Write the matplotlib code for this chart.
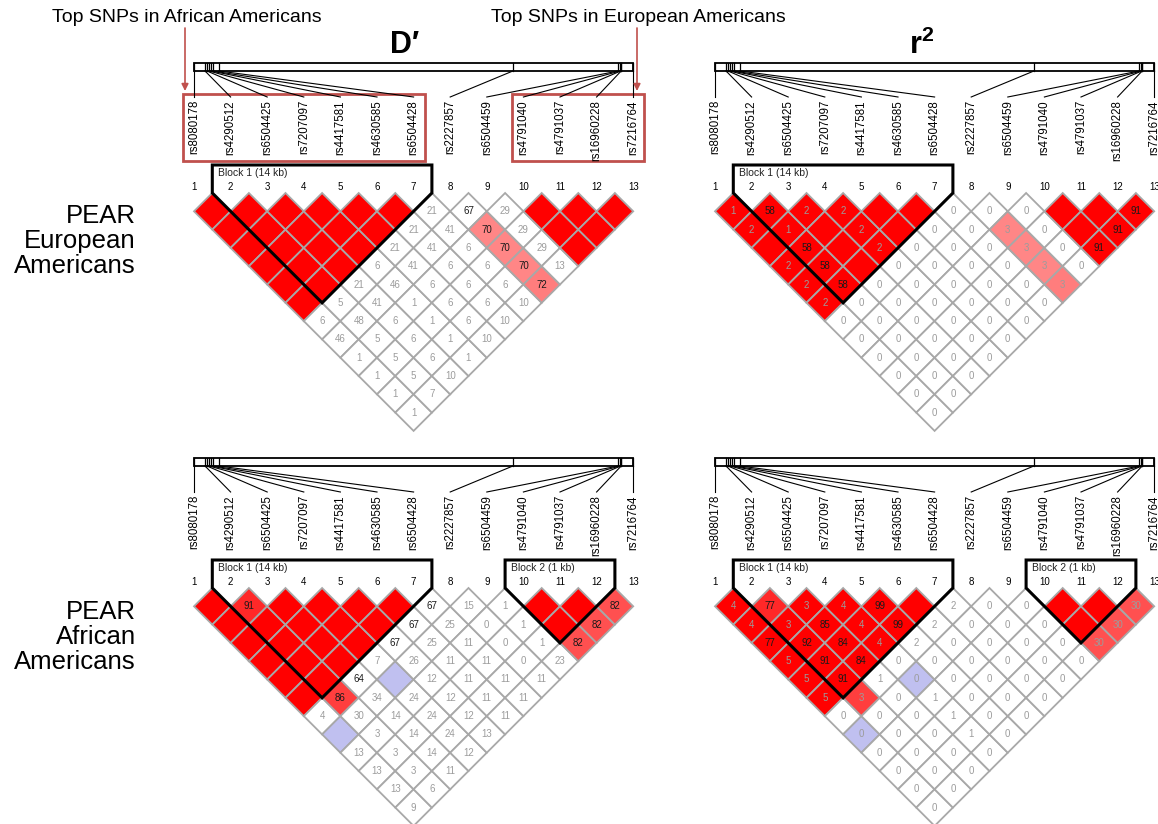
import matplotlib.pyplot as plt
from matplotlib.patches import Polygon, Rectangle

plt.rcParams['font.family'] = ['Liberation Sans', 'DejaVu Sans']
plt.rcParams['mathtext.fontset'] = 'custom'
plt.rcParams['mathtext.rm'] = 'Liberation Sans'
plt.rcParams['mathtext.bf'] = 'Liberation Sans:bold'

snp_ids = ['rs8080178', 'rs4290512', 'rs6504425', 'rs7207097', 'rs4417581',
           'rs4630585', 'rs6504428', 'rs2227857', 'rs6504459', 'rs4791040',
           'rs4791037', 'rs16960228', 'rs7216764']
# position along the region in kb
snp_kb = [0, 11, 13, 15, 17, 19, 25, 318, 423, 425, 425.5, 426, 438]

# row i holds the pairs (i, i+1), (i, i+2), ... (i, 13); values x100
dprime_eur = [
    [100, 100, 100, 100, 100, 100, 6, 46, 1, 1, 1, 1],
    [100, 100, 100, 100, 100, 5, 48, 5, 5, 5, 7],
    [100, 100, 100, 100, 21, 41, 6, 6, 6, 10],
    [100, 100, 100, 6, 46, 1, 1, 1, 1],
    [100, 100, 21, 41, 6, 6, 6, 10],
    [100, 21, 41, 6, 6, 6, 10],
    [21, 41, 6, 6, 6, 10],
    [67, 70, 70, 70, 72],
    [29, 29, 29, 13],
    [100, 100, 100],
    [100, 100],
    [100],
]
r2_eur = [
    [1, 2, 100, 2, 2, 2, 0, 0, 0, 0, 0, 0],
    [58, 1, 58, 58, 58, 0, 0, 0, 0, 0, 0],
    [2, 100, 100, 100, 0, 0, 0, 0, 0, 0],
    [2, 2, 2, 0, 0, 0, 0, 0, 0],
    [100, 100, 0, 0, 0, 0, 0, 0],
    [100, 0, 0, 0, 0, 0, 0],
    [0, 0, 0, 0, 0, 0],
    [0, 3, 3, 3, 3],
    [0, 0, 0, 0],
    [100, 100, 91],
    [100, 91],
    [91],
]
# 1 where LOD >= 2
lod_eur = [
    [1, 1, 1, 1, 1, 1, 0, 0, 0, 0, 0, 0],
    [1, 1, 1, 1, 1, 0, 0, 0, 0, 0, 0],
    [1, 1, 1, 1, 0, 0, 0, 0, 0, 0],
    [1, 1, 1, 0, 0, 0, 0, 0, 0],
    [1, 1, 0, 0, 0, 0, 0, 0],
    [1, 0, 0, 0, 0, 0, 0],
    [0, 0, 0, 0, 0, 0],
    [0, 1, 1, 1, 1],
    [0, 0, 0, 0],
    [1, 1, 1],
    [1, 1],
    [1],
]

dprime_afr = [
    [100, 100, 100, 100, 100, 100, 4, 100, 13, 13, 13, 9],
    [91, 100, 100, 100, 100, 86, 30, 3, 3, 3, 6],
    [100, 100, 100, 100, 64, 34, 14, 14, 14, 11],
    [100, 100, 100, 7, 100, 24, 24, 24, 12],
    [100, 100, 67, 26, 12, 12, 12, 13],
    [100, 67, 25, 11, 11, 11, 11],
    [67, 25, 11, 11, 11, 11],
    [15, 0, 0, 0, 11],
    [1, 1, 1, 23],
    [100, 100, 82],
    [100, 82],
    [82],
]
r2_afr = [
    [4, 4, 77, 5, 5, 5, 0, 0, 0, 0, 0, 0],
    [77, 3, 92, 91, 91, 3, 0, 0, 0, 0, 0],
    [3, 85, 84, 84, 1, 0, 0, 0, 0, 0],
    [4, 4, 4, 0, 0, 1, 1, 1, 0],
    [99, 99, 2, 0, 0, 0, 0, 0],
    [100, 2, 0, 0, 0, 0, 0],
    [2, 0, 0, 0, 0, 0],
    [0, 0, 0, 0, 0],
    [0, 0, 0, 0],
    [100, 100, 30],
    [100, 30],
    [30],
]
lod_afr = [
    [1, 1, 1, 1, 1, 1, 0, 0, 0, 0, 0, 0],
    [1, 1, 1, 1, 1, 1, 0, 0, 0, 0, 0],
    [1, 1, 1, 1, 0, 0, 0, 0, 0, 0],
    [1, 1, 1, 0, 0, 0, 0, 0, 0],
    [1, 1, 0, 0, 0, 0, 0, 0],
    [1, 0, 0, 0, 0, 0, 0],
    [0, 0, 0, 0, 0, 0],
    [0, 0, 0, 0, 0],
    [0, 0, 0, 0],
    [1, 1, 1],
    [1, 1],
    [1],
]

blocks_eur = [(2, 7, 'Block 1 (14 kb)')]
blocks_afr = [(2, 7, 'Block 1 (14 kb)'), (10, 12, 'Block 2 (1 kb)')]

S = 36.6          # px between neighbouring markers
H = S / 2
BOX_RED = '#c0504d'

fig = plt.figure(figsize=(11.58, 8.24), dpi=100)
ax = fig.add_axes([0, 0, 1, 1])
ax.set_xlim(0, 1158)
ax.set_ylim(824, 0)
ax.axis('off')


def cell_colour(d, strong):
    if d >= 100:
        return '#ff0000' if strong else '#c0c0f0'
    if strong:
        g = max(0.0, min(255.0, 446 * (1 - d / 100))) / 255
        return (1.0, g, g)
    return 'white'


def draw_panel(x0, y0, values, dprime, lod, blocks, boxed=False):
    n = len(snp_ids)
    xs = [x0 + k * S for k in range(n)]

    # region bar with marker ticks and connectors to the names
    bar_top, bar_bot = y0 - 130, y0 - 122
    ax.add_patch(Rectangle((xs[0], bar_top), xs[-1] - xs[0], bar_bot - bar_top,
                           fc='white', ec='black', lw=1.3))
    span = snp_kb[-1] - snp_kb[0]
    for k in range(n):
        bx = xs[0] + (snp_kb[k] - snp_kb[0]) / span * (xs[-1] - xs[0])
        ax.plot([bx, bx], [bar_top, bar_bot], color='black', lw=0.9)
        ax.plot([bx, xs[k]], [bar_bot, y0 - 96], color='black', lw=0.8)
        ax.text(xs[k], y0 - 93, snp_ids[k], rotation=90, ha='center', va='top',
                fontsize=8.3)
        ax.text(xs[k], y0 - 6, str(k + 1), ha='center', va='center', fontsize=7)

    if boxed:
        for a, b in [(0, 6), (9, 12)]:
            ax.add_patch(Rectangle((xs[a] - 11, y0 - 99), xs[b] - xs[a] + 22, 67,
                                   fill=False, ec=BOX_RED, lw=2))

    # LD diamonds
    for i in range(n - 1):
        for k, val in enumerate(values[i]):
            j = i + 1 + k
            d = dprime[i][k]
            cx = (xs[i] + xs[j]) / 2
            cy = y0 + (j - i) / 2 * S
            ax.add_patch(Polygon([(cx, cy - H), (cx + H, cy), (cx, cy + H), (cx - H, cy)],
                                 closed=True, fc=cell_colour(d, lod[i][k]),
                                 ec='#a8a8a8', lw=1.3))
            if val < 100:
                ax.text(cx, cy, str(val), ha='center', va='center', fontsize=7,
                        color='#1a1a1a' if val >= 50 else '#9c9c9c')

    # haplotype block outlines
    for s, e, label in blocks:
        xl, xr = xs[s - 1] - H, xs[e - 1] + H
        top = y0 - 28
        bottom = y0 + ((e - s) / 2 + 0.5) * S
        ax.add_patch(Polygon([(xl, top), (xl, y0), ((xl + xr) / 2, bottom),
                              (xr, y0), (xr, top)], closed=True, fill=False,
                             ec='black', lw=2.2, joinstyle='miter'))
        ax.text(xl + 6, top + 3, label, ha='left', va='top', fontsize=7.5,
                color='#222222')


draw_panel(194, 193, dprime_eur, dprime_eur, lod_eur, blocks_eur, boxed=True)
draw_panel(715, 193, r2_eur, dprime_eur, lod_eur, blocks_eur)
draw_panel(194, 588, dprime_afr, dprime_afr, lod_afr, blocks_afr)
draw_panel(715, 588, r2_afr, dprime_afr, lod_afr, blocks_afr)

ax.text(405, 45, 'D\u2032', ha='center', va='center', fontsize=22, fontweight='bold')
ax.text(922, 45, r'$\mathbf{r^2}$', ha='center', va='center', fontsize=22)

ax.text(136, 241, 'PEAR\nEuropean\nAmericans', ha='right', va='center',
        fontsize=18.5, linespacing=1.05)
ax.text(136, 637, 'PEAR\nAfrican\nAmericans', ha='right', va='center',
        fontsize=18.5, linespacing=1.05)

ax.text(187, 17, 'Top SNPs in African Americans', ha='center', va='center', fontsize=14)
ax.text(638, 17, 'Top SNPs in European Americans', ha='center', va='center', fontsize=14)
for xa in (185, 637):
    ax.annotate('', xy=(xa, 91), xytext=(xa, 28),
                arrowprops=dict(arrowstyle='-|>', color=BOX_RED, lw=1.2,
                                mutation_scale=10, shrinkA=0, shrinkB=0))

fig.savefig('out.png', dpi=100)
